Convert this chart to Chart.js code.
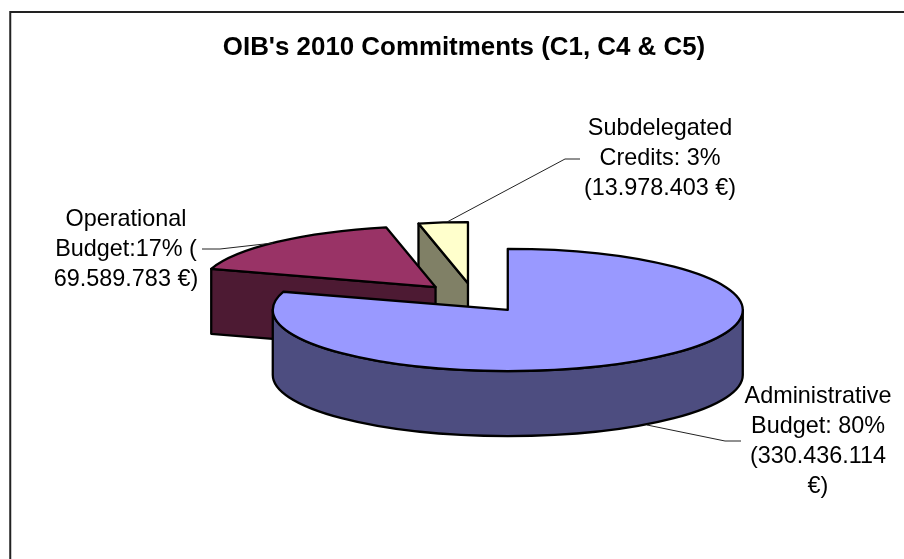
<!DOCTYPE html>
<html>
<head>
<meta charset="utf-8">
<title>OIB's 2010 Commitments</title>
<script src="https://cdn.jsdelivr.net/npm/chart.js@4"></script>
<style>
	html, body { margin: 0; padding: 0; background: #fff; }
	#wrap { position: relative; width: 904px; height: 559px; overflow: hidden; }
</style>
</head>
<body>
<div id="wrap"><canvas id="commitments" width="904" height="559"></canvas></div>
<script>
const CATEGORIES = ['Administrative Budget', 'Operational Budget', 'Subdelegated Credits'];
const AMOUNTS = [330436114, 69589783, 13978403];
const TOP_COLORS = ['#9999FF', '#993366', '#FFFFCC'];
const WALL_COLORS = ['#4D4D80', '#4D1A33', '#808066'];
const LABEL_LINES = [
	['Administrative', 'Budget: 80%', '(330.436.114', '€)'],
	['Operational', 'Budget:17% (', '69.589.783 €)'],
	['Subdelegated', 'Credits: 3%', '(13.978.403 €)']
];

// label placement, in pixels
const LABEL_CENTERS = [[818, 397], [126, 219.5], [660, 128.5]];
const LEADERS = [
	[[647, 425], [725, 441], [741, 441]],
	[[202, 249], [220, 249], [273, 243]],
	[[447, 222], [565, 159], [580, 159]]
];

const PIE = { x: 474, y: 298, radius: 235, tilt: 0.26, depth: 65, explode: 57 };
// back slices first so the big one sits on top of their walls
const PAINT_ORDER = [2, 1, 0];
const OUTLINE = '#000';

function tipOf(arc) {
	const mid = (arc.startAngle + arc.endAngle) / 2;
	return {
		x: PIE.x + Math.cos(mid) * PIE.explode,
		y: PIE.y + Math.sin(mid) * PIE.explode * PIE.tilt
	};
}

function rim(tip, angle, drop) {
	return {
		x: tip.x + Math.cos(angle) * PIE.radius,
		y: tip.y + Math.sin(angle) * PIE.radius * PIE.tilt + drop
	};
}

function paintFace(ctx, color, trace) {
	ctx.beginPath();
	trace();
	ctx.closePath();
	ctx.fillStyle = color;
	ctx.fill();
	ctx.stroke();
}

function radialWall(ctx, tip, angle, color) {
	const p = rim(tip, angle, 0);
	paintFace(ctx, color, () => {
		ctx.moveTo(tip.x, tip.y);
		ctx.lineTo(p.x, p.y);
		ctx.lineTo(p.x, p.y + PIE.depth);
		ctx.lineTo(tip.x, tip.y + PIE.depth);
	});
}

function paintWalls(ctx, arc, color) {
	const tip = tipOf(arc);
	const s = arc.startAngle;
	const e = arc.endAngle;
	if (-Math.cos(s) > 0.001) radialWall(ctx, tip, s, color);
	if (Math.cos(e) > 0.001) radialWall(ctx, tip, e, color);
	// outer wall: the part of the rim on the near half of the ellipse
	for (let k = -1; k <= 1; k++) {
		const a0 = Math.max(s, k * 2 * Math.PI);
		const a1 = Math.min(e, k * 2 * Math.PI + Math.PI);
		if (a1 <= a0) continue;
		const ry = PIE.radius * PIE.tilt;
		paintFace(ctx, color, () => {
			ctx.ellipse(tip.x, tip.y, PIE.radius, ry, 0, a0, a1);
			ctx.ellipse(tip.x, tip.y + PIE.depth, PIE.radius, ry, 0, a1, a0, true);
		});
	}
}

const tiltedPie = {
	id: 'tiltedPie',
	beforeDraw(chart) {
		// frame around the chart
		const ctx = chart.ctx;
		ctx.save();
		ctx.strokeStyle = '#222';
		ctx.lineWidth = 2;
		ctx.strokeRect(10.25, 12, 1000, 1000);
		ctx.restore();
	},
	beforeDatasetDraw(chart) {
		const ctx = chart.ctx;
		const arcs = chart.getDatasetMeta(0).data;
		ctx.save();
		ctx.lineWidth = 2.3;
		ctx.lineJoin = 'round';
		ctx.strokeStyle = OUTLINE;
		PAINT_ORDER.forEach(i => {
			const arc = arcs[i];
			const tip = tipOf(arc);
			paintWalls(ctx, arc, WALL_COLORS[i]);

			// top surface: the element's own arc, squashed into an ellipse
			ctx.save();
			ctx.translate(tip.x, tip.y);
			ctx.scale(1, PIE.tilt);
			ctx.translate(-arc.x, -arc.y);
			arc.draw(ctx);
			ctx.restore();

			ctx.beginPath();
			ctx.moveTo(tip.x, tip.y);
			ctx.ellipse(tip.x, tip.y, PIE.radius, PIE.radius * PIE.tilt, 0, arc.startAngle, arc.endAngle);
			ctx.closePath();
			ctx.stroke();
		});
		ctx.restore();
		return false;
	},
	afterDraw(chart) {
		const ctx = chart.ctx;
		ctx.save();
		ctx.strokeStyle = '#222';
		ctx.lineWidth = 1;
		LEADERS.forEach(line => {
			ctx.beginPath();
			line.forEach(([x, y], i) => i ? ctx.lineTo(x, y) : ctx.moveTo(x, y));
			ctx.stroke();
		});
		ctx.fillStyle = '#000';
		ctx.font = '23.4px "Liberation Sans"';
		ctx.textAlign = 'center';
		ctx.textBaseline = 'middle';
		LABEL_LINES.forEach((lines, i) => {
			lines.forEach((text, n) => {
				ctx.fillText(text, LABEL_CENTERS[i][0], LABEL_CENTERS[i][1] + n * 30);
			});
		});
		ctx.restore();
	}
};

new Chart(document.getElementById('commitments'), {
	type: 'pie',
	data: {
		labels: CATEGORIES,
		datasets: [{
			data: AMOUNTS,
			backgroundColor: TOP_COLORS,
			borderWidth: 0
		}]
	},
	plugins: [tiltedPie],
	options: {
		responsive: false,
		animation: false,
		radius: PIE.radius,
		layout: { padding: { left: 24 } },
		plugins: {
			legend: { display: false },
			tooltip: { enabled: false },
			title: {
				display: true,
				text: "OIB's 2010 Commitments (C1, C4 & C5)",
				color: '#000',
				font: { family: '"Liberation Sans"', size: 25.9, weight: 'bold' },
				padding: { top: 32, bottom: 10 }
			}
		}
	}
});
</script>
</body>
</html>
